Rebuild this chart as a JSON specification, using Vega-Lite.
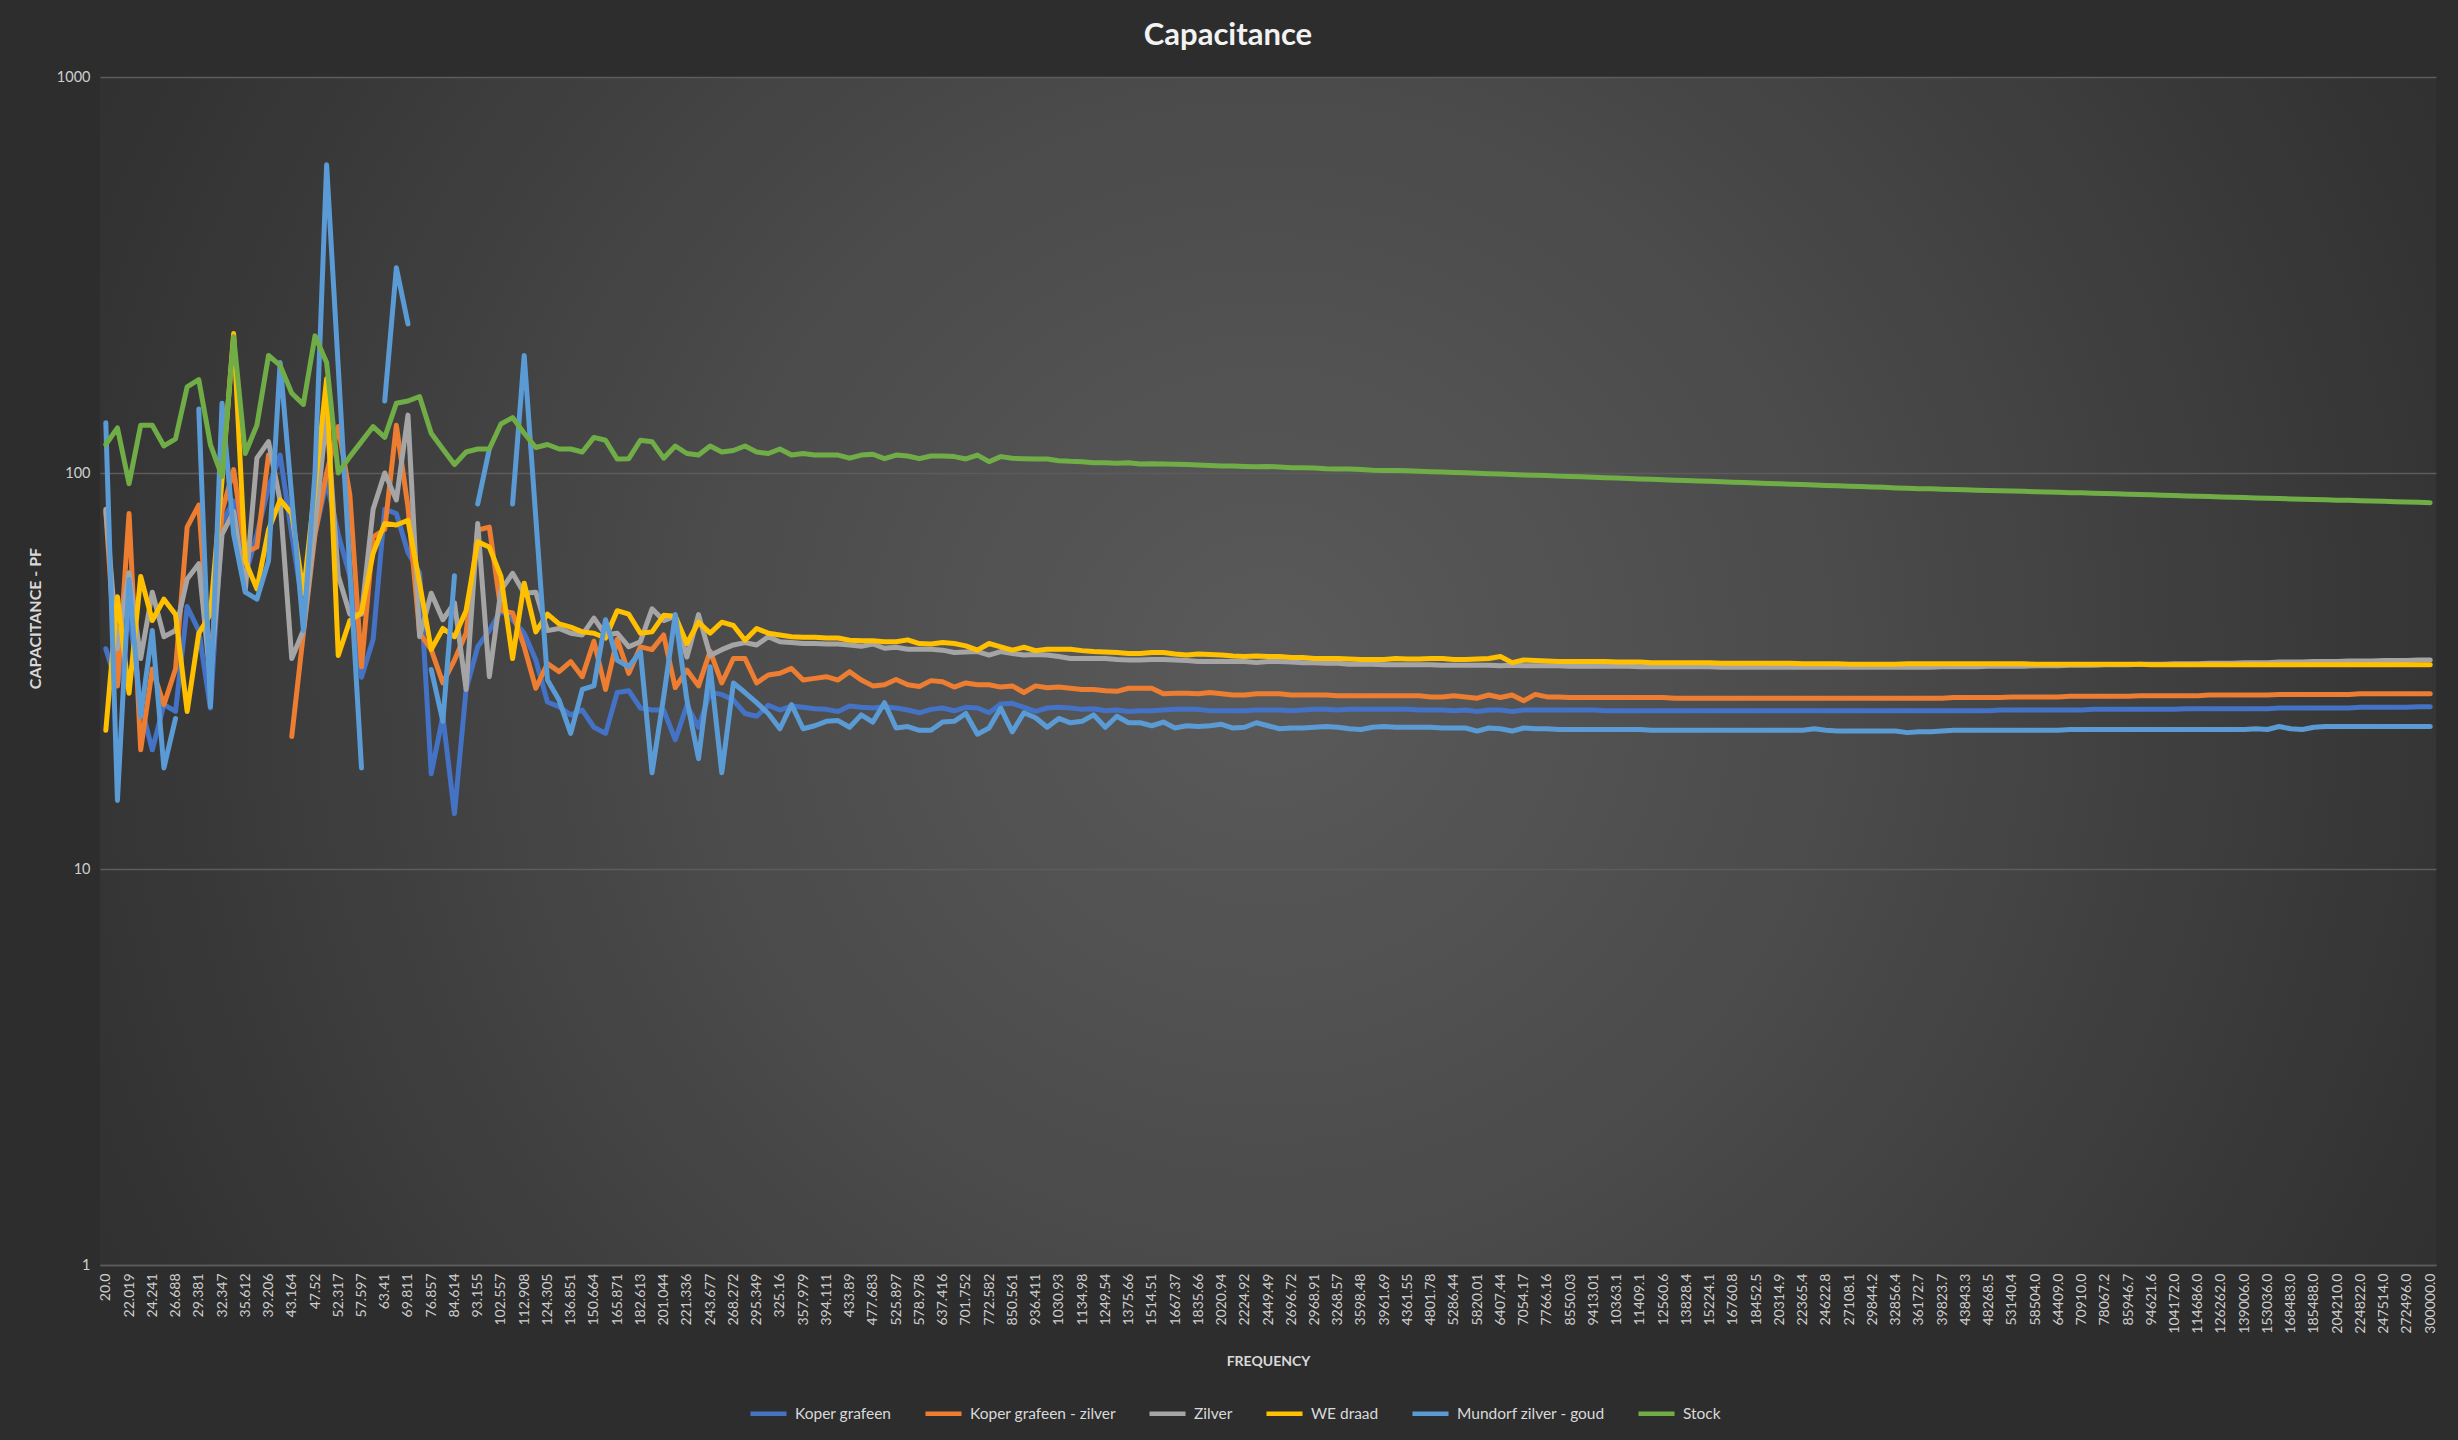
{
  "$schema": "https://vega.github.io/schema/vega-lite/v6.json",
  "width": 2336,
  "height": 1188,
  "autosize": {"type": "none"},
  "padding": {"left": 100, "top": 77, "right": 22, "bottom": 175},
  "background": "#2d2d2d",
  "view": {
    "stroke": null,
    "fill": {
      "gradient": "radial",
      "x1": 0.5, "y1": 0.5, "x2": 0.5, "y2": 0.5, "r1": 0, "r2": 0.7,
      "stops": [
        {"offset": 0, "color": "#5a5a5a"},
        {"offset": 0.35, "color": "#4b4b4b"},
        {"offset": 0.75, "color": "#333333"},
        {"offset": 1, "color": "#2a2a2a"}
      ]
    }
  },
  "title": {
    "text": "Capacitance",
    "font": "Lato",
    "fontSize": 31,
    "fontWeight": "bold",
    "color": "#f2f2f2",
    "anchor": "middle",
    "frame": "group",
    "dx": -40,
    "offset": 17
  },
  "data": {
    "values": [
      {"f":"20.0","s1":36,"s2":80,"s3":81,"s4":22.4,"s5":134,"s6":118},
      {"f":"20.985","s1":29,"s2":29,"s3":36,"s4":48.7,"s5":14.9,"s6":130},
      {"f":"22.019","s1":45,"s2":79,"s3":56,"s4":27.8,"s5":53.8,"s6":94},
      {"f":"23.103","s1":26,"s2":20,"s3":34,"s4":54.8,"s5":24.3,"s6":132},
      {"f":"24.241","s1":20,"s2":32,"s3":50,"s4":42.4,"s5":40,"s6":132},
      {"f":"25.435","s1":26,"s2":26,"s3":38.6,"s4":48,"s5":18,"s6":117},
      {"f":"26.688","s1":25,"s2":32,"s3":40,"s4":43.9,"s5":24,"s6":122},
      {"f":"28.002","s1":46,"s2":73,"s3":54,"s4":25,"s5":null,"s6":165},
      {"f":"29.381","s1":40,"s2":83,"s3":59,"s4":39.4,"s5":145,"s6":172},
      {"f":"30.828","s1":25.5,"s2":32,"s3":30,"s4":44,"s5":25.7,"s6":118},
      {"f":"32.347","s1":75,"s2":80,"s3":70,"s4":96,"s5":150,"s6":98},
      {"f":"33.94","s1":85,"s2":102,"s3":80,"s4":225,"s5":70,"s6":221},
      {"f":"35.612","s1":55,"s2":63,"s3":50.6,"s4":60,"s5":50,"s6":112},
      {"f":"37.366","s1":70,"s2":65,"s3":109,"s4":51,"s5":48,"s6":132},
      {"f":"39.206","s1":92,"s2":111,"s3":120,"s4":71.8,"s5":60,"s6":198},
      {"f":"41.137","s1":111,"s2":null,"s3":85,"s4":85.5,"s5":190,"s6":187},
      {"f":"43.164","s1":70,"s2":21.6,"s3":34,"s4":79,"s5":87,"s6":159},
      {"f":"45.29","s1":45,"s2":39.4,"s3":40,"s4":49.7,"s5":40,"s6":149},
      {"f":"47.52","s1":70,"s2":70,"s3":73,"s4":92,"s5":100,"s6":222},
      {"f":"49.861","s1":95,"s2":100,"s3":140,"s4":173,"s5":600,"s6":190},
      {"f":"52.317","s1":70,"s2":131,"s3":55,"s4":34.6,"s5":185,"s6":100},
      {"f":"54.894","s1":55,"s2":88,"s3":44,"s4":42.4,"s5":57,"s6":110},
      {"f":"57.597","s1":30.5,"s2":32.4,"s3":44,"s4":44.4,"s5":18,"s6":120},
      {"f":"60.434","s1":38,"s2":69,"s3":81,"s4":62.7,"s5":null,"s6":131},
      {"f":"63.41","s1":81,"s2":72,"s3":100,"s4":74.6,"s5":152,"s6":123},
      {"f":"66.533","s1":79,"s2":132,"s3":85.5,"s4":73.9,"s5":330,"s6":150},
      {"f":"69.811","s1":63,"s2":82,"s3":140,"s4":76,"s5":238,"s6":152},
      {"f":"73.249","s1":56,"s2":39.4,"s3":38.6,"s4":52.7,"s5":null,"s6":156},
      {"f":"76.857","s1":17.4,"s2":35.8,"s3":49.7,"s4":35.8,"s5":31.9,"s6":126},
      {"f":"80.642","s1":24.3,"s2":29.5,"s3":42.6,"s4":40.5,"s5":23.6,"s6":115},
      {"f":"84.614","s1":13.8,"s2":33.7,"s3":47,"s4":38.6,"s5":55,"s6":105},
      {"f":"88.781","s1":28.4,"s2":39.4,"s3":28.4,"s4":44.9,"s5":null,"s6":113},
      {"f":"93.155","s1":36.4,"s2":71.8,"s3":74.6,"s4":67,"s5":83.5,"s6":115},
      {"f":"97.743","s1":40,"s2":73,"s3":30.6,"s4":65,"s5":115,"s6":115},
      {"f":"102.557","s1":45,"s2":45,"s3":50.6,"s4":54.8,"s5":null,"s6":133},
      {"f":"107.608","s1":42.6,"s2":44.3,"s3":55.8,"s4":34,"s5":83.5,"s6":138},
      {"f":"112.908","s1":39.4,"s2":36.4,"s3":49.7,"s4":52.7,"s5":198,"s6":126},
      {"f":"118.469","s1":33.7,"s2":28.6,"s3":50,"s4":39.7,"s5":77,"s6":116},
      {"f":"124.305","s1":26.4,"s2":33,"s3":40,"s4":44,"s5":30,"s6":118},
      {"f":"130.427","s1":25.7,"s2":31.5,"s3":40.5,"s4":41.6,"s5":26.7,"s6":115},
      {"f":"136.851","s1":24.5,"s2":33.4,"s3":39.4,"s4":40.8,"s5":22,"s6":115},
      {"f":"143.591","s1":25.2,"s2":30.6,"s3":39,"s4":39.7,"s5":28.4,"s6":113},
      {"f":"150.664","s1":22.8,"s2":37.6,"s3":43,"s4":39.4,"s5":29,"s6":123},
      {"f":"158.085","s1":22,"s2":28.4,"s3":39,"s4":38.3,"s5":42.6,"s6":121},
      {"f":"165.871","s1":27.9,"s2":38,"s3":39.4,"s4":44.9,"s5":33.7,"s6":108.5},
      {"f":"174.041","s1":28.2,"s2":31.2,"s3":36.4,"s4":44,"s5":32.4,"s6":108.7},
      {"f":"182.613","s1":25.5,"s2":36.4,"s3":37.5,"s4":39.4,"s5":35.4,"s6":121},
      {"f":"191.607","s1":25.2,"s2":35.8,"s3":45.4,"s4":39.7,"s5":17.5,"s6":120},
      {"f":"201.044","s1":25.2,"s2":39,"s3":42.4,"s4":43.7,"s5":27.2,"s6":109},
      {"f":"210.946","s1":21.2,"s2":28.7,"s3":43.5,"s4":43.5,"s5":43.9,"s6":117},
      {"f":"221.336","s1":25.9,"s2":31.8,"s3":34.3,"s4":37.1,"s5":26.7,"s6":112},
      {"f":"232.237","s1":22.8,"s2":29,"s3":43.9,"s4":42,"s5":19,"s6":111},
      {"f":"243.677","s1":27.9,"s2":35.5,"s3":34.6,"s4":39.4,"s5":32.4,"s6":117},
      {"f":"255.679","s1":27.6,"s2":29.5,"s3":35.8,"s4":42,"s5":17.5,"s6":113},
      {"f":"268.272","s1":26.7,"s2":34,"s3":36.8,"s4":41.2,"s5":29.5,"s6":114},
      {"f":"281.485","s1":24.7,"s2":34,"s3":37.3,"s4":37.8,"s5":27.9,"s6":117},
      {"f":"295.349","s1":24.3,"s2":29.5,"s3":36.8,"s4":40.5,"s5":26.3,"s6":113},
      {"f":"309.896","s1":25.9,"s2":30.9,"s3":38.6,"s4":39.4,"s5":24.7,"s6":112},
      {"f":"325.16","s1":25.2,"s2":31.2,"s3":37.5,"s4":39,"s5":22.6,"s6":115},
      {"f":"341.175","s1":25.8,"s2":32.1,"s3":37.3,"s4":38.6,"s5":26,"s6":111},
      {"f":"357.979","s1":25.6,"s2":30,"s3":37.1,"s4":38.5,"s5":22.6,"s6":112},
      {"f":"375.61","s1":25.4,"s2":30.3,"s3":37.1,"s4":38.5,"s5":23,"s6":111},
      {"f":"394.111","s1":25.3,"s2":30.6,"s3":37,"s4":38.3,"s5":23.6,"s6":111},
      {"f":"413.522","s1":25,"s2":30,"s3":37,"s4":38.3,"s5":23.7,"s6":111},
      {"f":"433.89","s1":25.8,"s2":31.5,"s3":36.8,"s4":37.8,"s5":22.8,"s6":109},
      {"f":"455.26","s1":25.6,"s2":30,"s3":36.5,"s4":37.7,"s5":24.5,"s6":111},
      {"f":"477.683","s1":25.5,"s2":29.0,"s3":37.0,"s4":37.7,"s5":23.5,"s6":111.5},
      {"f":"501.21","s1":25.7,"s2":29.2,"s3":36.1,"s4":37.5,"s5":26.3,"s6":108.7},
      {"f":"525.897","s1":25.5,"s2":30.1,"s3":36.3,"s4":37.5,"s5":22.7,"s6":111},
      {"f":"551.8","s1":25.2,"s2":29.2,"s3":35.9,"s4":37.9,"s5":22.9,"s6":110.4},
      {"f":"578.978","s1":24.8,"s2":28.9,"s3":35.9,"s4":37.1,"s5":22.4,"s6":108.7},
      {"f":"607.49","s1":25.3,"s2":29.9,"s3":35.9,"s4":37.0,"s5":22.4,"s6":110.4},
      {"f":"637.416","s1":25.5,"s2":29.7,"s3":35.7,"s4":37.3,"s5":23.5,"s6":110.4},
      {"f":"668.81","s1":25.1,"s2":28.8,"s3":35.2,"s4":37.1,"s5":23.6,"s6":110},
      {"f":"701.752","s1":25.6,"s2":29.5,"s3":35.3,"s4":36.6,"s5":24.7,"s6":108.5},
      {"f":"736.32","s1":25.5,"s2":29.2,"s3":35.4,"s4":35.7,"s5":21.9,"s6":111},
      {"f":"772.582","s1":24.8,"s2":29.2,"s3":34.7,"s4":37.1,"s5":22.7,"s6":106.8},
      {"f":"810.63","s1":26.1,"s2":28.8,"s3":35.4,"s4":36.4,"s5":25.5,"s6":110},
      {"f":"850.561","s1":26.2,"s2":29.0,"s3":35.0,"s4":35.7,"s5":22.2,"s6":108.9},
      {"f":"892.45","s1":25.6,"s2":27.9,"s3":34.7,"s4":36.3,"s5":24.8,"s6":108.7},
      {"f":"936.411","s1":25.0,"s2":29.0,"s3":34.8,"s4":35.6,"s5":24.1,"s6":108.5},
      {"f":"982.53","s1":25.5,"s2":28.7,"s3":34.7,"s4":35.9,"s5":22.8,"s6":108.5},
      {"f":"1030.93","s1":25.6,"s2":28.8,"s3":34.4,"s4":35.9,"s5":24.0,"s6":107.4},
      {"f":"1081.71","s1":25.5,"s2":28.6,"s3":34.0,"s4":35.9,"s5":23.4,"s6":107},
      {"f":"1134.98","s1":25.3,"s2":28.4,"s3":34.0,"s4":35.6,"s5":23.6,"s6":106.8},
      {"f":"1190.88","s1":25.4,"s2":28.4,"s3":34.0,"s4":35.4,"s5":24.5,"s6":106.2},
      {"f":"1249.54","s1":25.1,"s2":28.2,"s3":34.0,"s4":35.3,"s5":22.8,"s6":106.2},
      {"f":"1311.08","s1":25.2,"s2":28.1,"s3":33.8,"s4":35.2,"s5":24.3,"s6":105.8},
      {"f":"1375.66","s1":25.0,"s2":28.6,"s3":33.7,"s4":35.0,"s5":23.4,"s6":106.2},
      {"f":"1443.41","s1":25.1,"s2":28.6,"s3":33.7,"s4":35.0,"s5":23.4,"s6":105.4},
      {"f":"1514.51","s1":25.1,"s2":28.6,"s3":33.8,"s4":35.2,"s5":23.0,"s6":105.6},
      {"f":"1589.1","s1":25.2,"s2":27.7,"s3":33.8,"s4":35.2,"s5":23.5,"s6":105.4},
      {"f":"1667.37","s1":25.3,"s2":27.8,"s3":33.7,"s4":34.9,"s5":22.7,"s6":105.2},
      {"f":"1749.49","s1":25.3,"s2":27.8,"s3":33.6,"s4":34.7,"s5":23.0,"s6":105},
      {"f":"1835.66","s1":25.3,"s2":27.7,"s3":33.4,"s4":34.9,"s5":22.9,"s6":104.8},
      {"f":"1926.07","s1":25.1,"s2":27.9,"s3":33.4,"s4":34.8,"s5":23.0,"s6":104.4},
      {"f":"2020.94","s1":25.1,"s2":27.7,"s3":33.4,"s4":34.7,"s5":23.2,"s6":104.1},
      {"f":"2120.48","s1":25.1,"s2":27.5,"s3":33.4,"s4":34.5,"s5":22.7,"s6":104.1},
      {"f":"2224.92","s1":25.1,"s2":27.5,"s3":33.4,"s4":34.4,"s5":22.8,"s6":103.9},
      {"f":"2334.5","s1":25.2,"s2":27.7,"s3":33.2,"s4":34.5,"s5":23.4,"s6":103.7},
      {"f":"2449.49","s1":25.2,"s2":27.7,"s3":33.4,"s4":34.4,"s5":23.0,"s6":103.9},
      {"f":"2570.13","s1":25.2,"s2":27.7,"s3":33.4,"s4":34.4,"s5":22.6,"s6":103.5},
      {"f":"2696.72","s1":25.1,"s2":27.5,"s3":33.3,"s4":34.2,"s5":22.7,"s6":103.1},
      {"f":"2829.54","s1":25.2,"s2":27.5,"s3":33.2,"s4":34.2,"s5":22.7,"s6":103.1},
      {"f":"2968.91","s1":25.3,"s2":27.5,"s3":33.2,"s4":34.0,"s5":22.8,"s6":102.9},
      {"f":"3115.13","s1":25.3,"s2":27.5,"s3":33.1,"s4":34.0,"s5":22.9,"s6":102.5},
      {"f":"3268.57","s1":25.2,"s2":27.4,"s3":33.1,"s4":34.0,"s5":22.8,"s6":102.3},
      {"f":"3429.55","s1":25.3,"s2":27.4,"s3":32.9,"s4":33.9,"s5":22.6,"s6":102.3},
      {"f":"3598.48","s1":25.3,"s2":27.4,"s3":32.9,"s4":33.8,"s5":22.5,"s6":102.1},
      {"f":"3775.71","s1":25.3,"s2":27.4,"s3":32.9,"s4":33.8,"s5":22.8,"s6":101.6},
      {"f":"3961.69","s1":25.3,"s2":27.4,"s3":32.8,"s4":33.8,"s5":22.9,"s6":101.4},
      {"f":"4156.8","s1":25.3,"s2":27.4,"s3":32.8,"s4":34.0,"s5":22.8,"s6":101.5},
      {"f":"4361.55","s1":25.3,"s2":27.4,"s3":32.8,"s4":33.9,"s5":22.8,"s6":101.3},
      {"f":"4576.36","s1":25.2,"s2":27.4,"s3":32.8,"s4":33.9,"s5":22.8,"s6":101.0},
      {"f":"4801.78","s1":25.2,"s2":27.2,"s3":32.8,"s4":34.0,"s5":22.8,"s6":100.8},
      {"f":"5038.28","s1":25.2,"s2":27.2,"s3":32.7,"s4":34.0,"s5":22.7,"s6":100.6},
      {"f":"5286.44","s1":25.1,"s2":27.4,"s3":32.7,"s4":33.8,"s5":22.7,"s6":100.3},
      {"f":"5546.8","s1":25.2,"s2":27.2,"s3":32.7,"s4":33.8,"s5":22.7,"s6":100.1},
      {"f":"5820.01","s1":25.0,"s2":27.0,"s3":32.7,"s4":33.9,"s5":22.3,"s6":99.9},
      {"f":"6106.66","s1":25.2,"s2":27.5,"s3":32.7,"s4":34.0,"s5":22.7,"s6":99.6},
      {"f":"6407.44","s1":25.2,"s2":27.1,"s3":32.6,"s4":34.4,"s5":22.6,"s6":99.4},
      {"f":"6723.01","s1":25.0,"s2":27.5,"s3":32.7,"s4":33.2,"s5":22.3,"s6":99.2},
      {"f":"7054.17","s1":25.2,"s2":26.6,"s3":32.6,"s4":33.7,"s5":22.7,"s6":98.9},
      {"f":"7401.59","s1":25.2,"s2":27.6,"s3":32.6,"s4":33.6,"s5":22.6,"s6":98.7},
      {"f":"7766.16","s1":25.2,"s2":27.2,"s3":32.6,"s4":33.5,"s5":22.6,"s6":98.5},
      {"f":"8148.65","s1":25.2,"s2":27.2,"s3":32.6,"s4":33.4,"s5":22.5,"s6":98.2},
      {"f":"8550.03","s1":25.2,"s2":27.1,"s3":32.5,"s4":33.4,"s5":22.5,"s6":98.0},
      {"f":"8971.13","s1":25.2,"s2":27.1,"s3":32.5,"s4":33.4,"s5":22.5,"s6":97.8},
      {"f":"9413.01","s1":25.2,"s2":27.1,"s3":32.5,"s4":33.4,"s5":22.5,"s6":97.5},
      {"f":"9876.61","s1":25.1,"s2":27.1,"s3":32.5,"s4":33.4,"s5":22.5,"s6":97.3},
      {"f":"10363.1","s1":25.1,"s2":27.1,"s3":32.5,"s4":33.3,"s5":22.5,"s6":97.1},
      {"f":"10873.5","s1":25.1,"s2":27.1,"s3":32.5,"s4":33.3,"s5":22.5,"s6":96.8},
      {"f":"11409.1","s1":25.1,"s2":27.1,"s3":32.4,"s4":33.3,"s5":22.5,"s6":96.6},
      {"f":"11971.0","s1":25.1,"s2":27.1,"s3":32.4,"s4":33.2,"s5":22.4,"s6":96.4},
      {"f":"12560.6","s1":25.1,"s2":27.1,"s3":32.4,"s4":33.2,"s5":22.4,"s6":96.2},
      {"f":"13179.2","s1":25.1,"s2":27.0,"s3":32.4,"s4":33.2,"s5":22.4,"s6":95.9},
      {"f":"13828.4","s1":25.1,"s2":27.0,"s3":32.4,"s4":33.2,"s5":22.4,"s6":95.7},
      {"f":"14509.5","s1":25.1,"s2":27.0,"s3":32.4,"s4":33.2,"s5":22.4,"s6":95.5},
      {"f":"15224.1","s1":25.1,"s2":27.0,"s3":32.4,"s4":33.2,"s5":22.4,"s6":95.3},
      {"f":"15973.9","s1":25.1,"s2":27.0,"s3":32.3,"s4":33.1,"s5":22.4,"s6":95.0},
      {"f":"16760.8","s1":25.1,"s2":27.0,"s3":32.3,"s4":33.1,"s5":22.4,"s6":94.8},
      {"f":"17586.3","s1":25.1,"s2":27.0,"s3":32.3,"s4":33.1,"s5":22.4,"s6":94.6},
      {"f":"18452.5","s1":25.1,"s2":27.0,"s3":32.3,"s4":33.1,"s5":22.4,"s6":94.4},
      {"f":"19361.3","s1":25.1,"s2":27.0,"s3":32.3,"s4":33.1,"s5":22.4,"s6":94.1},
      {"f":"20314.9","s1":25.1,"s2":27.0,"s3":32.3,"s4":33.1,"s5":22.4,"s6":93.9},
      {"f":"21315.4","s1":25.1,"s2":27.0,"s3":32.3,"s4":33.1,"s5":22.4,"s6":93.7},
      {"f":"22365.4","s1":25.1,"s2":27.0,"s3":32.3,"s4":33.0,"s5":22.4,"s6":93.5},
      {"f":"23466.9","s1":25.1,"s2":27.0,"s3":32.3,"s4":33.0,"s5":22.6,"s6":93.3},
      {"f":"24622.8","s1":25.1,"s2":27.0,"s3":32.3,"s4":33.0,"s5":22.4,"s6":93.0},
      {"f":"25835.5","s1":25.1,"s2":27.0,"s3":32.3,"s4":33.0,"s5":22.3,"s6":92.8},
      {"f":"27108.1","s1":25.1,"s2":27.0,"s3":32.3,"s4":32.9,"s5":22.3,"s6":92.6},
      {"f":"28443.2","s1":25.1,"s2":27.0,"s3":32.3,"s4":32.9,"s5":22.3,"s6":92.4},
      {"f":"29844.2","s1":25.1,"s2":27.0,"s3":32.3,"s4":32.9,"s5":22.3,"s6":92.2},
      {"f":"31314.1","s1":25.1,"s2":27.0,"s3":32.3,"s4":32.9,"s5":22.3,"s6":92.0},
      {"f":"32856.4","s1":25.1,"s2":27.0,"s3":32.3,"s4":32.9,"s5":22.3,"s6":91.7},
      {"f":"34474.6","s1":25.1,"s2":27.0,"s3":32.3,"s4":33.0,"s5":22.1,"s6":91.5},
      {"f":"36172.7","s1":25.1,"s2":27.0,"s3":32.3,"s4":33.0,"s5":22.2,"s6":91.3},
      {"f":"37954.2","s1":25.1,"s2":27.0,"s3":32.3,"s4":33.0,"s5":22.2,"s6":91.2},
      {"f":"39823.7","s1":25.1,"s2":27.0,"s3":32.4,"s4":33.0,"s5":22.3,"s6":91.0},
      {"f":"41785.0","s1":25.1,"s2":27.1,"s3":32.4,"s4":33.0,"s5":22.4,"s6":90.8},
      {"f":"43843.3","s1":25.1,"s2":27.1,"s3":32.4,"s4":33.0,"s5":22.4,"s6":90.7},
      {"f":"46002.6","s1":25.1,"s2":27.1,"s3":32.4,"s4":33.0,"s5":22.4,"s6":90.5},
      {"f":"48268.5","s1":25.1,"s2":27.1,"s3":32.5,"s4":33.0,"s5":22.4,"s6":90.3},
      {"f":"50645.7","s1":25.2,"s2":27.1,"s3":32.5,"s4":33.0,"s5":22.4,"s6":90.2},
      {"f":"53140.4","s1":25.2,"s2":27.2,"s3":32.5,"s4":33.0,"s5":22.4,"s6":90.0},
      {"f":"55757.6","s1":25.2,"s2":27.2,"s3":32.5,"s4":33.0,"s5":22.4,"s6":89.9},
      {"f":"58504.0","s1":25.2,"s2":27.2,"s3":32.6,"s4":32.9,"s5":22.4,"s6":89.7},
      {"f":"61385.4","s1":25.2,"s2":27.2,"s3":32.6,"s4":32.9,"s5":22.4,"s6":89.6},
      {"f":"64409.0","s1":25.2,"s2":27.2,"s3":32.6,"s4":32.9,"s5":22.4,"s6":89.4},
      {"f":"67581.2","s1":25.2,"s2":27.3,"s3":32.7,"s4":32.9,"s5":22.5,"s6":89.2},
      {"f":"70910.0","s1":25.2,"s2":27.3,"s3":32.7,"s4":32.9,"s5":22.5,"s6":89.1},
      {"f":"74402.4","s1":25.3,"s2":27.3,"s3":32.7,"s4":32.9,"s5":22.5,"s6":88.9},
      {"f":"78067.2","s1":25.3,"s2":27.3,"s3":32.8,"s4":32.9,"s5":22.5,"s6":88.7},
      {"f":"81912.1","s1":25.3,"s2":27.3,"s3":32.8,"s4":32.9,"s5":22.5,"s6":88.6},
      {"f":"85946.7","s1":25.3,"s2":27.3,"s3":32.8,"s4":32.9,"s5":22.5,"s6":88.4},
      {"f":"90179.6","s1":25.3,"s2":27.4,"s3":32.9,"s4":32.9,"s5":22.5,"s6":88.2},
      {"f":"94621.6","s1":25.3,"s2":27.4,"s3":32.9,"s4":32.8,"s5":22.5,"s6":88.1},
      {"f":"99281.8","s1":25.3,"s2":27.4,"s3":32.9,"s4":32.8,"s5":22.5,"s6":87.9},
      {"f":"104172.0","s1":25.3,"s2":27.4,"s3":33.0,"s4":32.8,"s5":22.5,"s6":87.7},
      {"f":"109302.6","s1":25.4,"s2":27.4,"s3":33.0,"s4":32.8,"s5":22.5,"s6":87.5},
      {"f":"114686.0","s1":25.4,"s2":27.4,"s3":33.0,"s4":32.8,"s5":22.5,"s6":87.3},
      {"f":"120334.4","s1":25.4,"s2":27.5,"s3":33.1,"s4":32.8,"s5":22.5,"s6":87.2},
      {"f":"126262.0","s1":25.4,"s2":27.5,"s3":33.1,"s4":32.8,"s5":22.5,"s6":87.0},
      {"f":"132480.5","s1":25.4,"s2":27.5,"s3":33.1,"s4":32.8,"s5":22.5,"s6":86.8},
      {"f":"139006.0","s1":25.4,"s2":27.5,"s3":33.2,"s4":32.8,"s5":22.5,"s6":86.7},
      {"f":"145852.3","s1":25.4,"s2":27.5,"s3":33.2,"s4":32.8,"s5":22.6,"s6":86.5},
      {"f":"153036.0","s1":25.4,"s2":27.5,"s3":33.2,"s4":32.8,"s5":22.5,"s6":86.4},
      {"f":"160573.3","s1":25.5,"s2":27.6,"s3":33.3,"s4":32.8,"s5":22.9,"s6":86.2},
      {"f":"168483.0","s1":25.5,"s2":27.6,"s3":33.3,"s4":32.8,"s5":22.6,"s6":86.0},
      {"f":"176781.0","s1":25.5,"s2":27.6,"s3":33.3,"s4":32.8,"s5":22.5,"s6":85.9},
      {"f":"185488.0","s1":25.5,"s2":27.6,"s3":33.4,"s4":32.8,"s5":22.8,"s6":85.7},
      {"f":"194623.5","s1":25.5,"s2":27.6,"s3":33.4,"s4":32.8,"s5":22.9,"s6":85.6},
      {"f":"204210.0","s1":25.5,"s2":27.6,"s3":33.4,"s4":32.8,"s5":22.9,"s6":85.4},
      {"f":"214267.6","s1":25.5,"s2":27.6,"s3":33.5,"s4":32.8,"s5":22.9,"s6":85.3},
      {"f":"224822.0","s1":25.6,"s2":27.7,"s3":33.5,"s4":32.8,"s5":22.9,"s6":85.1},
      {"f":"235894.8","s1":25.6,"s2":27.7,"s3":33.5,"s4":32.8,"s5":22.9,"s6":85.0},
      {"f":"247514.0","s1":25.6,"s2":27.7,"s3":33.6,"s4":32.8,"s5":22.9,"s6":84.8},
      {"f":"259704.3","s1":25.6,"s2":27.7,"s3":33.6,"s4":32.8,"s5":22.9,"s6":84.6},
      {"f":"272496.0","s1":25.6,"s2":27.7,"s3":33.6,"s4":32.8,"s5":22.9,"s6":84.5},
      {"f":"285916.7","s1":25.7,"s2":27.7,"s3":33.7,"s4":32.8,"s5":22.9,"s6":84.3},
      {"f":"300000.0","s1":25.7,"s2":27.7,"s3":33.7,"s4":32.8,"s5":22.9,"s6":84.1}
    ]
  },
  "transform": [
    {"fold": ["s1", "s2", "s3", "s4", "s5", "s6"], "as": ["series", "capacitance"]}
  ],
  "mark": {
    "type": "line",
    "strokeWidth": 5,
    "strokeCap": "round",
    "strokeJoin": "round",
    "invalid": "break-paths-filter-domains"
  },
  "encoding": {
    "x": {
      "field": "f",
      "type": "ordinal",
      "sort": null,
      "scale": {"type": "point", "padding": 0.5},
      "axis": {
        "values": ["20.0","22.019","24.241","26.688","29.381","32.347","35.612","39.206","43.164","47.52","52.317","57.597","63.41","69.811","76.857","84.614","93.155","102.557","112.908","124.305","136.851","150.664","165.871","182.613","201.044","221.336","243.677","268.272","295.349","325.16","357.979","394.111","433.89","477.683","525.897","578.978","637.416","701.752","772.582","850.561","936.411","1030.93","1134.98","1249.54","1375.66","1514.51","1667.37","1835.66","2020.94","2224.92","2449.49","2696.72","2968.91","3268.57","3598.48","3961.69","4361.55","4801.78","5286.44","5820.01","6407.44","7054.17","7766.16","8550.03","9413.01","10363.1","11409.1","12560.6","13828.4","15224.1","16760.8","18452.5","20314.9","22365.4","24622.8","27108.1","29844.2","32856.4","36172.7","39823.7","43843.3","48268.5","53140.4","58504.0","64409.0","70910.0","78067.2","85946.7","94621.6","104172.0","114686.0","126262.0","139006.0","153036.0","168483.0","185488.0","204210.0","224822.0","247514.0","272496.0","300000.0"],
        "labelAngle": -90,
        "labelAlign": "right",
        "labelBaseline": "middle",
        "labelFont": "Lato",
        "labelFontSize": 14,
        "labelColor": "#cfcfcf",
        "labelPadding": 8,
        "labelOverlap": false,
        "ticks": false,
        "grid": false,
        "domain": true,
        "domainColor": "#5c5c5c",
        "domainWidth": 1.3,
        "title": "FREQUENCY",
        "titleFont": "Lato",
        "titleFontSize": 14,
        "titleFontWeight": "bold",
        "titleColor": "#d9d9d9",
        "titleBaseline": "middle",
        "titleY": 96
      }
    },
    "y": {
      "field": "capacitance",
      "type": "quantitative",
      "scale": {"type": "log", "domain": [1, 1000]},
      "axis": {
        "values": [1, 10, 100, 1000],
        "format": "d",
        "grid": true,
        "gridColor": "#5c5c5c",
        "gridWidth": 1.3,
        "domain": false,
        "ticks": false,
        "labelFont": "Lato",
        "labelFontSize": 14.5,
        "labelColor": "#cfcfcf",
        "labelPadding": 10,
        "title": "CAPACITANCE - PF",
        "titleFont": "Lato",
        "titleFontSize": 16,
        "titleFontWeight": "bold",
        "titleColor": "#d9d9d9",
        "titleBaseline": "middle",
        "titleX": -65,
        "titleY": 541
      }
    },
    "color": {
      "field": "series",
      "type": "nominal",
      "scale": {
        "domain": ["s1", "s2", "s3", "s4", "s5", "s6"],
        "range": ["#4472C4", "#ED7D31", "#A5A5A5", "#FFC000", "#5B9BD5", "#70AD47"]
      },
      "legend": {
        "orient": "none",
        "direction": "horizontal",
        "legendX": 648,
        "legendY": 1316,
        "title": null,
        "symbolType": "stroke",
        "symbolSize": 1300,
        "symbolStrokeWidth": 4.5,
        "labelFont": "Lato",
        "labelFontSize": 15.5,
        "labelColor": "#d9d9d9",
        "labelOffset": 6,
        "columnPadding": 24,
        "labelExpr": "datum.label == 's1' ? 'Koper grafeen' : datum.label == 's2' ? 'Koper grafeen - zilver' : datum.label == 's3' ? 'Zilver' : datum.label == 's4' ? 'WE draad' : datum.label == 's5' ? 'Mundorf zilver - goud' : 'Stock'"
      }
    }
  }
}
